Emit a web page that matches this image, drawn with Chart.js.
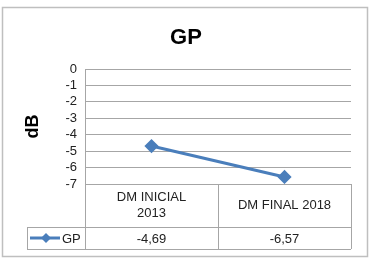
<!DOCTYPE html>
<html>
<head>
<meta charset="utf-8">
<script src="https://cdn.jsdelivr.net/npm/chart.js@4"></script>
<style>
  html, body { margin: 0; padding: 0; background: #fff; }
  #wrap { width: 370px; height: 261px; }
</style>
</head>
<body>
<div id="wrap"><canvas id="gpChart" width="370" height="261"></canvas></div>
<script>
// chart data
const chartTitle = 'GP';
const axisTitle = 'dB';
const seriesName = 'GP';
const categories = [['DM INICIAL', '2013'], ['DM FINAL 2018']];
const gpValues = [-4.69, -6.57];
const valueLabels = ['-4,69', '-6,57'];
const yMin = -7;
const yMax = 0;

const lineColor = '#4a7ebb';
const borderGray = '#a6a6a6';
const fontFamily = '"Liberation Sans", Arial, sans-serif';

// draws the outer frame, title and the data table under the plot
const tablePlugin = {
    id: 'dataTable',
    beforeDraw(chart) {
        const ctx = chart.ctx;
        ctx.save();
        ctx.fillStyle = '#fff';
        ctx.fillRect(0, 0, chart.width, chart.height);
        ctx.strokeStyle = '#bfbfbf';
        ctx.lineWidth = 1.5;
        ctx.strokeRect(2.5, 7.5, 365, 249);
        ctx.restore();
    },
    afterDraw(chart) {
        const ctx = chart.ctx;
        const area = chart.chartArea;
        const x = chart.scales.x;
        const headerBottom = area.bottom + 43;
        const rowBottom = headerBottom + 22;
        const legendLeft = 27;
        const colW = (area.right - area.left) / categories.length;

        ctx.save();
        // title
        ctx.fillStyle = '#000';
        ctx.font = 'bold 22px ' + fontFamily;
        ctx.textAlign = 'center';
        ctx.textBaseline = 'middle';
        ctx.fillText(chartTitle, 186, 38);

        // table grid
        ctx.strokeStyle = borderGray;
        ctx.lineWidth = 1;
        ctx.beginPath();
        for (let i = 0; i <= categories.length; i++) {
            const lx = Math.round(area.left + colW * i) + 0.5;
            ctx.moveTo(lx, area.bottom);
            ctx.lineTo(lx, rowBottom);
        }
        ctx.moveTo(legendLeft + 0.5, headerBottom);
        ctx.lineTo(legendLeft + 0.5, rowBottom);
        ctx.moveTo(legendLeft, headerBottom + 0.5);
        ctx.lineTo(area.right, headerBottom + 0.5);
        ctx.moveTo(legendLeft, rowBottom + 0.5);
        ctx.lineTo(area.right, rowBottom + 0.5);
        ctx.stroke();

        // header + values
        ctx.fillStyle = '#222';
        ctx.font = '13px ' + fontFamily;
        categories.forEach((cat, i) => {
            const cx = x.getPixelForValue(i);
            const midY = (area.bottom + headerBottom) / 2;
            const lh = 16;
            cat.forEach((line, j) => {
                ctx.fillText(line, cx, midY + (j - (cat.length - 1) / 2) * lh);
            });
            ctx.fillText(valueLabels[i], cx, (headerBottom + rowBottom) / 2 + 1);
        });

        // legend key
        const ky = (headerBottom + rowBottom) / 2;
        ctx.strokeStyle = lineColor;
        ctx.lineWidth = 3;
        ctx.beginPath();
        ctx.moveTo(30, ky);
        ctx.lineTo(60, ky);
        ctx.stroke();
        ctx.fillStyle = lineColor;
        ctx.beginPath();
        ctx.moveTo(46, ky - 5);
        ctx.lineTo(51, ky);
        ctx.lineTo(46, ky + 5);
        ctx.lineTo(41, ky);
        ctx.closePath();
        ctx.fill();
        ctx.fillStyle = '#222';
        ctx.textAlign = 'left';
        ctx.fillText(seriesName, 62, ky + 1);
        ctx.restore();
    }
};

const ctx = document.getElementById('gpChart').getContext('2d');
new Chart(ctx, {
    type: 'line',
    data: {
        labels: categories.map(c => c.join(' ')),
        datasets: [{
            label: seriesName,
            data: gpValues,
            borderColor: lineColor,
            backgroundColor: lineColor,
            borderWidth: 3,
            pointStyle: 'rectRot',
            pointRadius: 5,
            pointBackgroundColor: lineColor,
            pointBorderColor: lineColor,
            tension: 0
        }]
    },
    options: {
        responsive: false,
        animation: false,
        layout: {
            padding: { left: 0, right: 19, top: 69, bottom: 77 }
        },
        plugins: {
            legend: { display: false },
            title: { display: false },
            tooltip: { enabled: false }
        },
        scales: {
            x: {
                type: 'category',
                offset: true,
                display: false
            },
            y: {
                min: yMin,
                max: yMax,
                afterFit(scale) { scale.width = 85; },
                border: { display: true, color: borderGray, width: 1 },
                grid: {
                    color: borderGray,
                    drawTicks: false
                },
                ticks: {
                    stepSize: 1,
                    autoSkip: false,
                    padding: 8,
                    color: '#222',
                    font: { family: fontFamily, size: 13 }
                },
                title: {
                    display: true,
                    text: axisTitle,
                    color: '#000',
                    padding: { top: 22, bottom: 0 },
                    font: { family: fontFamily, size: 18, weight: 'bold' }
                }
            }
        }
    },
    plugins: [tablePlugin]
});
</script>
</body>
</html>
